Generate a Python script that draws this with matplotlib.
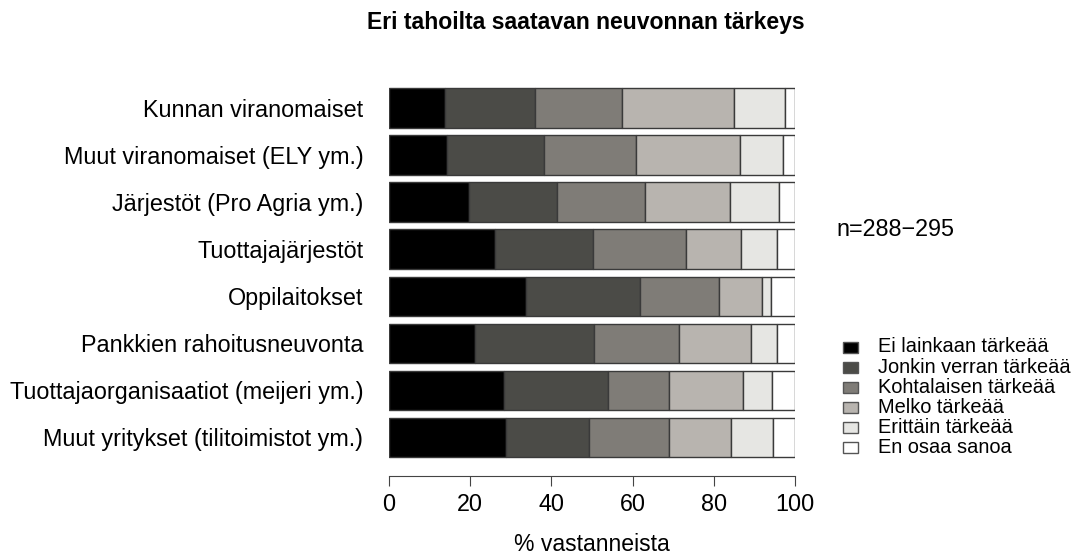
import matplotlib.pyplot as plt
import numpy as np
from matplotlib.patches import Rectangle

plt.rcParams.update({"font.family": ["Liberation Sans", "DejaVu Sans"]})

categories = [
    "Kunnan viranomaiset",
    "Muut viranomaiset (ELY ym.)",
    "Järjestöt (Pro Agria ym.)",
    "Tuottajajärjestöt",
    "Oppilaitokset",
    "Pankkien rahoitusneuvonta",
    "Tuottajaorganisaatiot (meijeri ym.)",
    "Muut yritykset (tilitoimistot ym.)",
]
levels = [
    "Ei lainkaan tärkeää",
    "Jonkin verran tärkeää",
    "Kohtalaisen tärkeää",
    "Melko tärkeää",
    "Erittäin tärkeää",
    "En osaa sanoa",
]
ei_lainkaan = [13.7, 14.4, 19.8, 26.1, 33.7, 21.3, 28.4, 28.8]
jonkin_verran = [22.3, 23.9, 21.5, 24.2, 28.0, 29.1, 25.6, 20.5]
kohtalaisen = [21.3, 22.5, 21.7, 22.9, 19.5, 21.1, 14.9, 19.6]
melko = [27.7, 25.6, 21.1, 13.5, 10.7, 17.7, 18.2, 15.4]
erittain = [12.5, 10.6, 12.0, 8.9, 2.1, 6.4, 7.2, 10.2]
en_osaa = [2.5, 3.0, 3.9, 4.4, 6.0, 4.4, 5.7, 5.5]
series = [ei_lainkaan, jonkin_verran, kohtalaisen, melko, erittain, en_osaa]
colors = ["#000000", "#4b4b47", "#7f7c77", "#b8b4af", "#e6e6e3", "#ffffff"]
n_text = "n=288\u2212295"
title = "Eri tahoilta saatavan neuvonnan tärkeys"
xlabel = "% vastanneista"

W, H = 1077, 557
fig = plt.figure(figsize=(W / 100, H / 100), dpi=100)
ax = fig.add_axes([389 / W, 1 - 461 / H, 406 / W, 376.5 / H])

y = np.arange(len(categories))
left = np.zeros(len(categories))
for vals, col in zip(series, colors):
    ax.barh(y, vals, left=left, height=0.84, color=col,
            edgecolor="#3a3a3a", linewidth=1.0)
    left += np.array(vals)

ax.set_xlim(0, 100)
ax.set_ylim(len(categories) - 0.5, -0.5)
ax.set_yticks(y)
ax.set_yticklabels(categories, fontsize=16.8)
ax.tick_params(axis="y", length=0, pad=18.5)
ax.set_xticks(np.arange(0, 101, 20))
ax.tick_params(axis="x", labelsize=16.8, length=7, color="#444444", pad=5)
for s in ["top", "right", "left"]:
    ax.spines[s].set_visible(False)
ax.spines["bottom"].set_position(("outward", 11))
ax.spines["bottom"].set_bounds(0, 100)
ax.spines["bottom"].set_color("#444444")
ax.set_xlabel(xlabel, fontsize=16.6, labelpad=12)

fig.text(586 / W, 1 - 23 / H, title, ha="center", va="center",
         fontsize=16.6, fontweight="bold")
fig.text(836 / W, 1 - 230 / H, n_text, ha="left", va="center",
         fontsize=16.8)

# legend drawn by hand to match the tight R-style row spacing
for i, (lab, col) in enumerate(zip(levels, colors)):
    yc = 347 + i * 20.1
    fig.patches.append(Rectangle((843 / W, 1 - (yc + 5.5) / H), 15 / W, 11 / H,
                                 transform=fig.transFigure, facecolor=col,
                                 edgecolor="#555555", linewidth=1.0))
    fig.text(878 / W, 1 - yc / H, lab, ha="left", va="center", fontsize=14.4)

fig.savefig("out.png", dpi=100)
